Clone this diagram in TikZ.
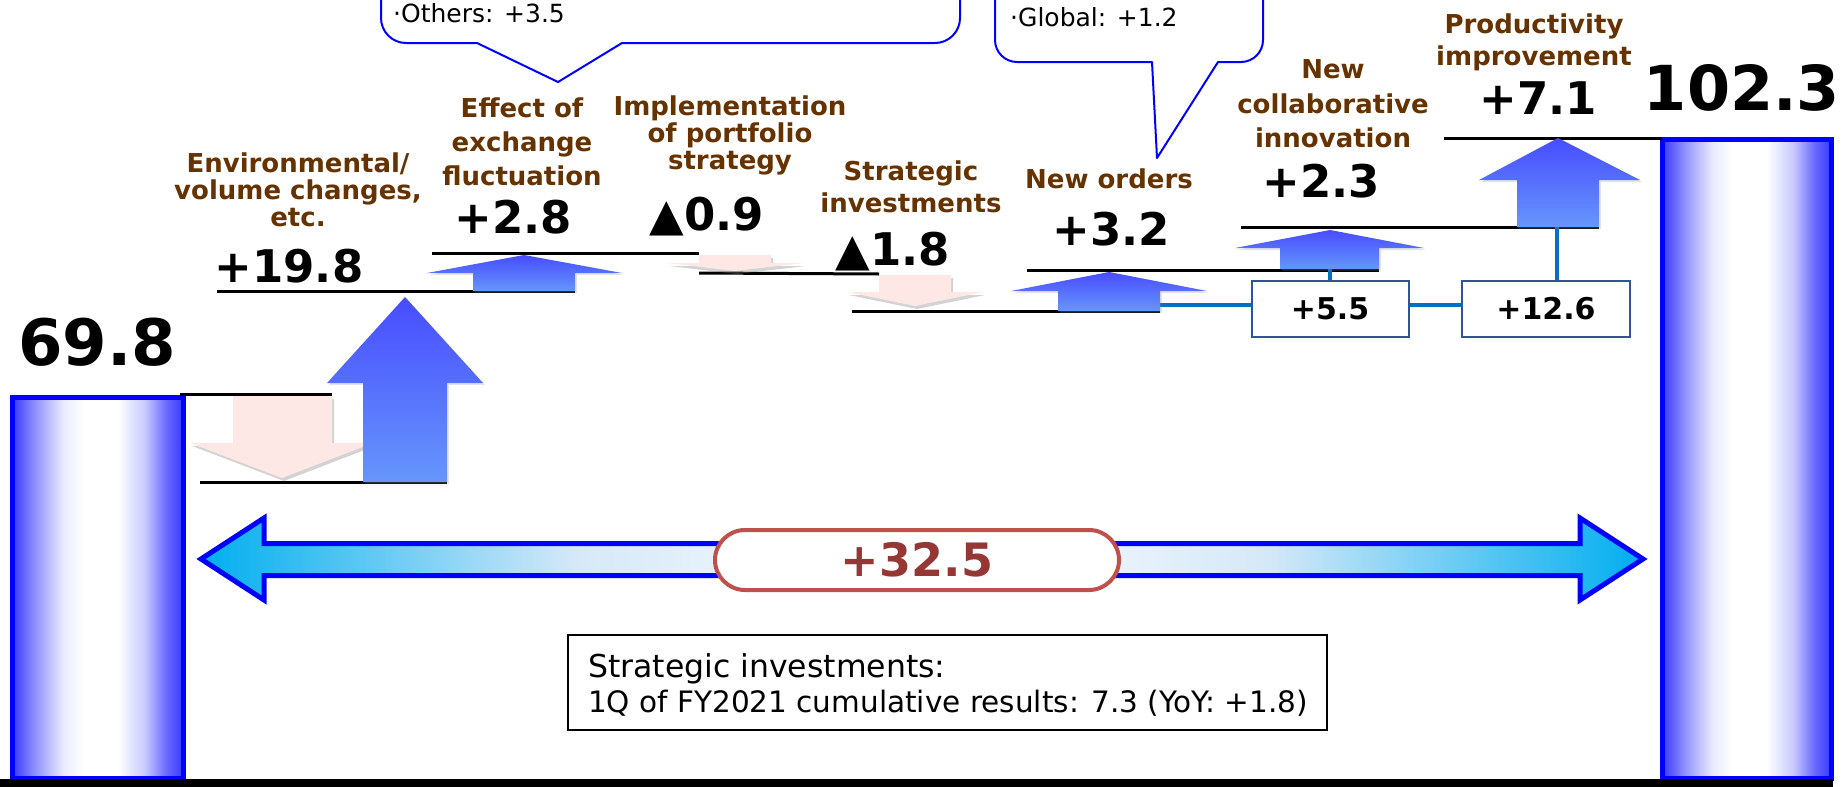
\documentclass[tikz,border=0pt]{standalone}
\usepackage{fontspec}
\setmainfont{DejaVu Sans}
\usetikzlibrary{shadows}

\definecolor{lblbrown}{RGB}{102,51,0}
\definecolor{barblue}{RGB}{0,0,255}
\definecolor{upblueTop}{RGB}{72,76,255}
\definecolor{upblueBot}{RGB}{102,150,250}
\definecolor{pinkfill}{RGB}{253,232,230}
\definecolor{connblue}{RGB}{0,112,192}
\definecolor{boxedge}{RGB}{47,85,151}
\definecolor{pillred}{RGB}{192,80,77}
\definecolor{pilltext}{RGB}{149,55,53}
\definecolor{cyanend}{RGB}{0,174,239}
\definecolor{cyanpale}{RGB}{214,232,248}
\colorlet{barA}{barblue!78}
\colorlet{barB}{barblue!42}
\colorlet{barC}{barblue!8}
\colorlet{barD}{barblue!22}
\colorlet{barE}{barblue!58}

% column fill: strong blue at the sides, white band slightly right of centre
\pgfdeclarehorizontalshading{barshade}{100bp}{color(0bp)=(barA); color(25bp)=(barA);
  color(32bp)=(barB); color(40bp)=(barC); color(46bp)=(white); color(56bp)=(white);
  color(64bp)=(barD); color(70bp)=(barE); color(75bp)=(barA); color(100bp)=(barA)}
% double arrow fill: cyan at the tips, pale towards the middle
\pgfdeclarehorizontalshading{spanshade}{100bp}{color(0bp)=(cyanend); color(25bp)=(cyanend);
  color(38bp)=(cyanpale); color(50bp)=(white); color(62bp)=(cyanpale);
  color(75bp)=(cyanend); color(100bp)=(cyanend)}

\newcommand\fsz[1]{\fontsize{#1}{#1}\selectfont}

\tikzset{
  lbl/.style={text=lblbrown, font=\fsz{26}\bfseries, inner sep=0pt, anchor=base},
  val/.style={font=\fsz{45}\bfseries, inner sep=0pt, anchor=base},
  big/.style={font=\fsz{64}\bfseries, inner sep=0pt, anchor=base},
  note/.style={font=\fsz{25}, inner sep=0pt, anchor=base west},
  stepline/.style={line width=3pt, draw=black},
  upshape/.style={top color=upblueTop, bottom color=upblueBot, draw=none,
    drop shadow={opacity=0.22, shadow xshift=2pt, shadow yshift=-2pt}},
  downshape/.style={fill=pinkfill, draw=none,
    drop shadow={opacity=0.35, shadow xshift=2pt, shadow yshift=-3pt}},
  bar/.style={draw=barblue, line width=5pt, shading=barshade},
  conn/.style={draw=connblue, line width=3.5pt},
  sumbox/.style={draw=boxedge, line width=2pt, fill=white, inner sep=0pt,
    minimum height=56pt, font=\fsz{30}\bfseries},
  bubble/.style={draw=barblue, line width=2pt, fill=white, line join=round},
}

\begin{document}
\begin{tikzpicture}[x=1pt,y=-1pt]
\useasboundingbox (0,0) rectangle (1845,787);
\clip (0,0) rectangle (1845,787);

% call-out balloons (their upper parts run off the top edge)
\path[bubble] (381,-60) -- (381,18) arc (180:90:25) -- (477,43) -- (558,82) -- (622,43)
  -- (935,43) arc (90:0:25) -- (960,-60);
\node[note] (others) at (393,22) {·Others: +3.5};
\path[bubble] (995,-60) -- (995,40) arc (180:90:22) -- (1152,62) -- (1157,158) -- (1218,62)
  -- (1241,62) arc (90:0:22) -- (1263,-60);
\node[note] (global) at (1010,27) {·Global: +1.2};

% start and end bars
\path[bar] (12,397) rectangle (183,778);
\path[bar] (1662,139) rectangle (1831,778);
\fill[black] (0,779) rectangle (1833,787);

% waterfall levels
\draw[stepline] (180,394) -- (332,394);
\draw[stepline] (200,482) -- (447,482);
\draw[stepline] (217,291) -- (575,291);
\draw[stepline] (432,253) -- (699,253);
\draw[stepline] (699,273) -- (879,274);
\draw[stepline] (852,311) -- (1160,311);
\draw[stepline] (1027,270) -- (1379,270);
\draw[stepline] (1241,227) -- (1599,227);
\draw[stepline] (1444,138) -- (1662,138);

% subtotal boxes and their links
\node[sumbox, minimum width=157pt] (sub1) at (1330,309) {+5.5};
\node[sumbox, minimum width=168pt] (sub2) at (1546,309) {+12.6};
\coordinate (c32) at (1160,305);
\coordinate (c23) at (1330,269);
\coordinate (c71) at (1557,227);
\draw[conn] (c32) -- (c32 -| sub1.west);
\draw[conn] (sub1.east |- c32) -- (sub2.west |- c32);
\draw[conn] (c23) -- (sub1.north);
\draw[conn] (c71) -- (c71 |- sub2.north);

% decreases
\path[downshape] (233,396) -- (332,396) -- (332,443) -- (373,443) -- (282,478) -- (190,443) -- (233,443) -- cycle;
\path[downshape] (699,255) -- (771,255) -- (771,263) -- (804,263) -- (735,271) -- (667,263) -- (699,263) -- cycle;
\path[downshape] (879,275) -- (951,275) -- (951,292) -- (983,292) -- (915,306) -- (847,292) -- (879,292) -- cycle;

% increases
\path[upshape] (363,482) -- (363,383) -- (327,383) -- (405,297) -- (483,383) -- (447,383) -- (447,482) -- cycle;
\path[upshape] (473,291) -- (473,273) -- (427,273) -- (524,255) -- (622,273) -- (575,273) -- (575,291) -- cycle;
\path[upshape] (1058,311) -- (1058,291) -- (1011,291) -- (1109,272) -- (1207,291) -- (1160,291) -- (1160,311) -- cycle;
\path[upshape] (1280,269) -- (1280,248) -- (1235,248) -- (1330,230) -- (1424,248) -- (1379,248) -- (1379,269) -- cycle;
\path[upshape] (1517,227) -- (1517,180) -- (1479,180) -- (1558,138) -- (1640,180) -- (1599,180) -- (1599,227) -- cycle;

% item captions
\node[lbl] (env1) at (298,172) {Environmental/};
\node[lbl] (env2) at (298,199) {volume changes,};
\node[lbl] (env3) at (298,226) {etc.};
\node[lbl] (fx1) at (522,117) {Effect of};
\node[lbl] (fx2) at (522,151) {exchange};
\node[lbl] (fx3) at (522,185) {fluctuation};
\node[lbl] (pf1) at (730,115) {Implementation};
\node[lbl] (pf2) at (730,142) {of portfolio};
\node[lbl] (pf3) at (730,169) {strategy};
\node[lbl] (si1) at (911,180) {Strategic};
\node[lbl] (si2) at (911,212) {investments};
\node[lbl] (no1) at (1109,188) {New orders};
\node[lbl] (ci1) at (1333,78) {New};
\node[lbl] (ci2) at (1333,113) {collaborative};
\node[lbl] (ci3) at (1333,147) {innovation};
\node[lbl] (pi1) at (1534,33) {Productivity};
\node[lbl] (pi2) at (1534,65) {improvement};

% item values
\node[val] (v1) at (289,282) {+19.8};
\node[val] (v2) at (513,233) {+2.8};
\node[val] (v3) at (707,230) {{\mdseries ▲}0.9};
\node[val] (v4) at (893,265) {{\mdseries ▲}1.8};
\node[val] (v5) at (1111,245) {+3.2};
\node[val] (v6) at (1321,197) {+2.3};
\node[val] (v7) at (1538,114) {+7.1};
\node[big] (start) at (97,365) {69.8};
\node[big, font=\fsz{62}\bfseries] (finish) at (1742,110) {102.3};

% overall change
\path[draw=barblue, line width=5pt, line join=miter, shading=spanshade]
  (201,559) -- (264,518) -- (264,543.5) -- (1580,543.5) -- (1580,518) -- (1643,559)
  -- (1580,600) -- (1580,575.5) -- (264,575.5) -- (264,600) -- cycle;
\node[draw=pillred, line width=4pt, fill=white, rounded corners=30pt, minimum width=404pt,
  minimum height=60pt, inner sep=0pt, text=pilltext, font=\fsz{46}\bfseries] (total) at (917,560) {+32.5};

% footnote box
\node[draw=black, line width=2pt, minimum width=759pt, minimum height=95pt, inner sep=0pt] (info) at (947.5,682.5) {};
\node[anchor=base west, inner sep=0pt, font=\fsz{31.5}] (info1) at (588,677) {Strategic investments:};
\node[anchor=base west, inner sep=0pt, font=\fsz{29.5}] (info2) at (588,712) {1Q of FY2021 cumulative results: 7.3 (YoY: +1.8)};
\end{tikzpicture}
\end{document}
